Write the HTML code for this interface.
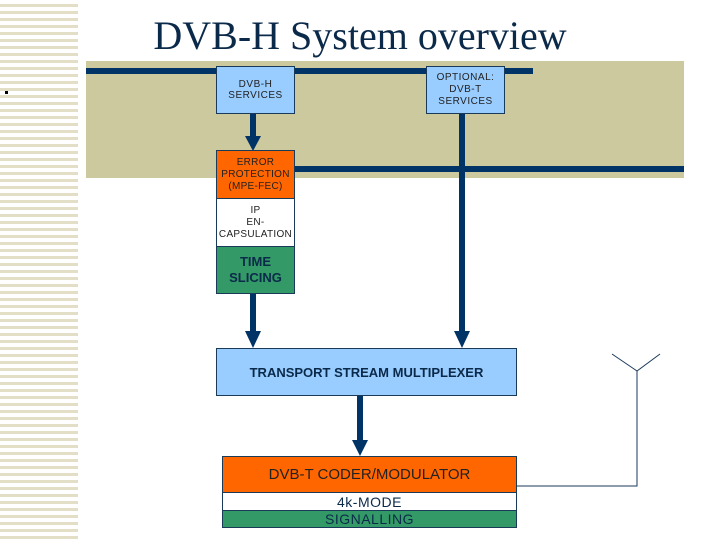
<!DOCTYPE html>
<html><head><style>
body{margin:0;width:720px;height:540px;position:relative;background:#fff;overflow:hidden;font-family:"Liberation Sans",sans-serif}
.a{position:absolute}
.box{position:absolute;box-sizing:border-box;border:1px solid #1a3a5a;display:flex;align-items:center;justify-content:center;text-align:center;color:#222;}
</style></head><body>
<div class="a" style="left:0;top:0;width:78px;height:540px;background:repeating-linear-gradient(#fff 0 4px,#e2dfc6 4px 7px)"></div>
<div class="a" style="left:5px;top:91px;width:3px;height:3px;background:#000"></div>
<div class="a" style="left:0;top:12px;width:720px;text-align:center;font-family:'Liberation Serif',serif;font-size:40px;color:#0b2a4a;padding-left:-0px">DVB-H System overview</div>
<div class="a" style="left:86px;top:61px;width:598px;height:117px;background:#cbc99d"></div>
<div class="a" style="left:86px;top:68px;width:447px;height:6px;background:#003366"></div>
<div class="a" style="left:295px;top:166px;width:389px;height:6px;background:#003366"></div>
<div class="a" style="left:459px;top:114px;width:6px;height:218px;background:#003366"></div>
<div class="a" style="left:250px;top:114px;width:6px;height:24px;background:#003366"></div>
<div class="a" style="left:250px;top:294px;width:6px;height:40px;background:#003366"></div>
<div class="a" style="left:357px;top:396px;width:6px;height:46px;background:#003366"></div>
<svg class="a" style="left:0;top:0" width="720" height="540">
<polygon points="245,136 261,136 253,151" fill="#003366"/>
<polygon points="245,331 261,331 253,348" fill="#003366"/>
<polygon points="454,331 470,331 462,348" fill="#003366"/>
<polygon points="352,440 368,440 360,456" fill="#003366"/>
<polyline points="516,486 637,486 637,371" fill="none" stroke="#1a3a5a" stroke-width="1"/>
<polyline points="612,354 637,371 660,354" fill="none" stroke="#1a3a5a" stroke-width="1"/>
</svg>
<div class="box" style="left:216px;top:66px;width:79px;height:48px;background:#99ccff;font-size:10px;letter-spacing:0.5px">DVB-H<br>SERVICES</div>
<div class="box" style="left:426px;top:66px;width:79px;height:48px;background:#99ccff;font-size:10px;line-height:12px;letter-spacing:0.5px">OPTIONAL:<br>DVB-T<br>SERVICES</div>
<div class="box" style="left:216px;top:150px;width:79px;height:49px;background:#ff6600;font-size:10px;line-height:12px;letter-spacing:0.3px">ERROR<br>PROTECTION<br>(MPE-FEC)</div>
<div class="box" style="left:216px;top:198px;width:79px;height:49px;background:#fff;font-size:10px;line-height:12px;letter-spacing:0.3px">IP<br>EN-<br>CAPSULATION</div>
<div class="box" style="left:216px;top:246px;width:79px;height:48px;background:#339966;font-size:13px;font-weight:bold;color:#0b2a4a;line-height:16px">TIME<br>SLICING</div>
<div class="box" style="left:216px;top:348px;width:301px;height:48px;background:#99ccff;font-size:13px;font-weight:bold;color:#0b2a4a">TRANSPORT STREAM MULTIPLEXER</div>
<div class="box" style="left:222px;top:456px;width:295px;height:37px;background:#ff6600;font-size:15px;color:#222">DVB-T CODER/MODULATOR</div>
<div class="box" style="left:222px;top:492px;width:295px;height:19px;background:#fff;font-size:14px;color:#0b2a4a;letter-spacing:0.5px">4k-MODE</div>
<div class="box" style="left:222px;top:510px;width:295px;height:18px;background:#339966;font-size:14px;color:#0b2a4a;letter-spacing:0.5px">SIGNALLING</div>
</body></html>
